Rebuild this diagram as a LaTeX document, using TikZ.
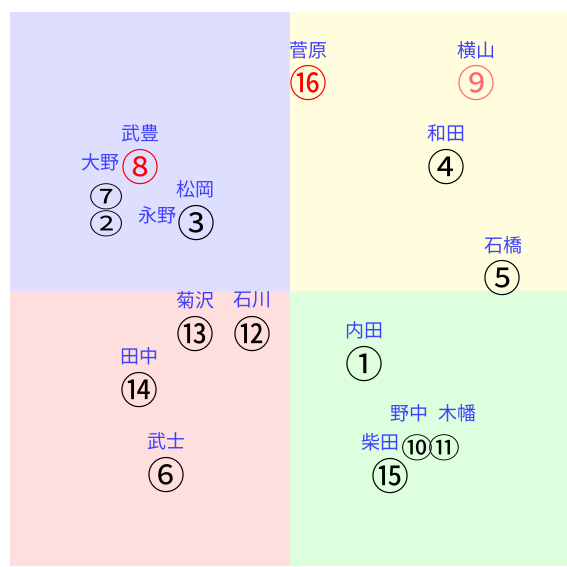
\documentclass[tikz,border=0pt]{standalone}
\usepackage{graphicx}
\usepackage{fontspec}
\setmainfont{Noto Sans CJK JP}
\newcommand{\squashed}[2]{\scalebox{#1}[0.74]{#2}}
\begin{document}
\begin{tikzpicture}[x=1pt,y=-1pt,
    lab/.style={text=blue!75,font=\fontsize{19}{19}\selectfont,inner sep=0pt},
    num/.style={font=\fontsize{38}{38}\selectfont,inner sep=0pt}]
  \useasboundingbox (0,0) rectangle (567,566);
  \fill[blue!13] (10,12) rectangle (290,291);
  \fill[yellow!13] (290,12) rectangle (567,291);
  \fill[red!13] (10,291) rectangle (290,566);
  \fill[green!13] (290,291) rectangle (567,566);
  % numbers
  \draw
    (364,364) node[num] (n1){①}
    (107,224) node[num] (n2){\squashed{0.9}{②}}
    (196,223) node[num] (n3){③}
    (446,167) node[num] (n4){④}
    (502,278) node[num] (n5){⑤}
    (166,475) node[num] (n6){⑥}
    (107,197) node[num] (n7){\squashed{0.9}{⑦}}
    (140,167) node[num,text=red] (n8){⑧}
    (476,83) node[num,text=red!60] (n9){⑨}
    (417,448) node[num] (n10){\squashed{0.84}{⑩}}
    (444,448) node[num] (n11){\squashed{0.84}{⑪}}
    (252,334) node[num] (n12){⑫}
    (195,334) node[num] (n13){⑬}
    (139,390) node[num] (n14){⑭}
    (390,476) node[num] (n15){⑮}
    (308,83) node[num,text=red] (n16){⑯};
  % names
  \draw
    (364,330) node[lab] (l1){内田}
    (157,215) node[lab] (l2){永野}
    (195,189) node[lab] (l3){松岡}
    (446,133) node[lab] (l4){和田}
    (503,245) node[lab] (l5){石橋}
    (166,441) node[lab] (l6){武士}
    (100,162) node[lab] (l7){大野}
    (140,133) node[lab] (l8){武豊}
    (476,50) node[lab] (l9){横山}
    (409,413) node[lab] (l10){野中}
    (457,413) node[lab] (l11){木幡}
    (252,300) node[lab] (l12){石川}
    (195,300) node[lab] (l13){菊沢}
    (139,356) node[lab] (l14){田中}
    (380,442) node[lab] (l15){柴田}
    (308,50) node[lab] (l16){菅原};
\end{tikzpicture}
\end{document}
